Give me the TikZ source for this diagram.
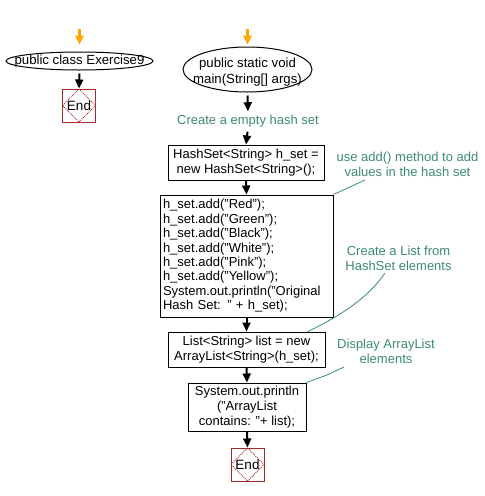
\documentclass[tikz,border=0pt]{standalone}
\usepackage{fontspec}
\setmainfont{Liberation Sans}
\usetikzlibrary{shapes.geometric,arrows.meta,calc}
\definecolor{cgreen}{RGB}{61,139,111}
\definecolor{cred}{RGB}{165,42,42}
\definecolor{corange}{RGB}{255,165,0}
\begin{document}
\begin{tikzpicture}[x=1pt,y=-1pt,
  txt/.style={font=\fontsize{13.2}{15}\selectfont, inner sep=0pt},
  box/.style={draw, line width=1pt, inner sep=0pt, font=\fontsize{13}{15}\selectfont, align=center},
  ell/.style={draw, line width=1pt, ellipse, inner sep=0pt},
  endbox/.style={draw=cred, line width=1pt, minimum size=33pt, inner sep=0pt,
     font=\fontsize{13.5}{15}\selectfont,
     path picture={\draw[cred, densely dotted, line width=0.9pt]
       (path picture bounding box.north) -- (path picture bounding box.east) --
       (path picture bounding box.south) -- (path picture bounding box.west) -- cycle;}},
  cmt/.style={text=cgreen, font=\fontsize{13}{15}\selectfont, align=center, inner sep=0pt},
  arr/.style={line width=2pt, -{Triangle[width=8pt,length=9pt]}},
  oarr/.style={corange, line width=3.5pt, -{Triangle[width=8.5pt,length=9pt]}},
  cline/.style={cgreen, line width=0.8pt}
]
\useasboundingbox (0,0) rectangle (485,496);

% left column
\coordinate (s1) at (79.5,29);
\node[ell, minimum width=147pt, minimum height=18pt] (e1) at (79.5,61) {};
\node[txt] (e1t) at (79.5,61.5) {public class Exercise9};
\node[endbox] (end1) at (79,105.5) {End};
\draw[oarr, shorten >=7pt] (s1) -- (e1.north);
\draw[arr, shorten <=3pt] (e1.south) -- (end1.north);

% right column
\coordinate (s2) at (247.5,29);
\node[ell, minimum width=129pt, minimum height=45pt] (e2) at (247.5,69.5) {};
\node[txt, align=center, font=\fontsize{13.2}{16}\selectfont] (e2t) at (247.5,72) {public static void\\main(String[] args)};
\draw[oarr, shorten >=2pt] (s2) -- (e2.north);

\node[cmt] (lab1) at (248,121.5) {Create a empty hash set};
\draw[arr, shorten <=3pt, shorten >=4pt] (e2.south) -- (lab1.north);

\node[box, minimum width=156pt, minimum height=35pt] (b1) at (246,162.5)
  {HashSet<String> h\_set =\\new HashSet<String>();};
\draw[arr, shorten <=4pt] (lab1.south) -- (b1.north);

\node[box, minimum width=173pt, minimum height=122pt, text width=167pt, align=left,
  font=\fontsize{13}{14.4}\selectfont] (b2) at (246.5,256)
  {h\_set.add("Red");\\
   h\_set.add("Green");\\
   h\_set.add("Black");\\
   h\_set.add("White");\\
   h\_set.add("Pink");\\
   h\_set.add("Yellow");\\
   System.out.println("Original\\
   Hash Set: " + h\_set);};
\draw[arr] (b1.south) -- (b2.north);

\node[box, minimum width=157pt, minimum height=35pt] (b3) at (246.5,349.5)
  {List<String> list = new\\ArrayList<String>(h\_set);};
\draw[arr] (b2.south) -- (b3.north);

\node[box, minimum width=118pt, minimum height=48pt] (b4) at (247,407)
  {System.out.println\\("ArrayList\\contains: "+ list);};
\draw[arr] (b3.south) -- (b4.north);

\node[endbox] (end2) at (247.5,464.5) {End};
\draw[arr] (b4.south) -- (end2.north);

% comments
\node[cmt] (c1) at (407.5,164.5) {use add() method to add\\values in the hash set};
\node[cmt] (c2) at (398.5,258.5) {Create a List from\\HashSet elements};
\node[cmt] (c3) at (386,351.5) {Display ArrayList\\elements};

\coordinate (k1) at (365,180);
\coordinate (k2) at (385,273);
\coordinate (k2s) at (307,332);
\coordinate (k3) at (344,367);

\draw[cline] (b2.north east) -- (k1);
\draw[cline] (k2s) .. controls (340,316) and (368,298) .. (k2);
\draw[cline] (b4.north east) -- (327,375) -- (k3);
\end{tikzpicture}
\end{document}
